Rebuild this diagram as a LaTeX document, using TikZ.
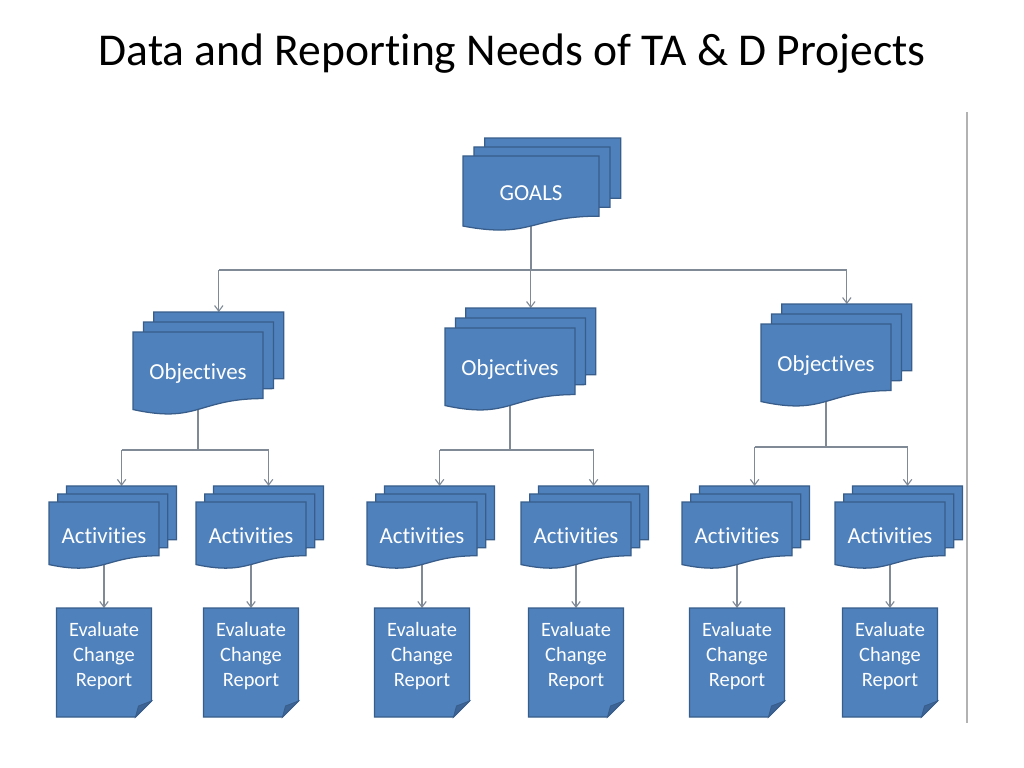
\documentclass[tikz,border=0pt]{standalone}
\usepackage{fontspec}
\setmainfont{Carlito}[Ligatures=NoCommon]
\usetikzlibrary{arrows.meta, backgrounds}
\definecolor{docblue}{RGB}{79,129,189}
\definecolor{docedge}{RGB}{56,93,138}
\definecolor{docfold}{RGB}{60,100,150}
\definecolor{linkgray}{RGB}{128,138,150}

% stack of three document sheets: name, left x, top y, width, height, text
\newcommand{\docstack}[6]{%
  \foreach \k in {2,1,0}{
    \path[sheet, shift={({\k*0.08*#4},{-\k*0.12*#5})}]
      (#2,#3) -- ({#2+#4},#3) -- ({#2+#4},{#3+0.802*#5})
      .. controls ({#2+0.5*#4},{#3+0.802*#5}) and ({#2+0.5*#4},{#3+1.107*#5})
      .. (#2,{#3+0.934*#5}) -- cycle;
  }
  \node[doctext] (#1) at ({#2+0.5*#4},{#3+0.5*#5}) {#6};
  \coordinate (#1-t) at ({#2+0.66*#4},{#3-0.24*#5});
}
% report sheet with folded corner: name, centre x
\newcommand{\report}[2]{%
  \path[sheet] ({#2-47.5},608) -- ({#2+47.5},608) -- ({#2+47.5},701)
    -- ({#2+31.5},717) -- ({#2-47.5},717) -- cycle;
  \path[fill=docfold, draw=docedge, line width=0.6pt]
    ({#2+47.5},701) -- ({#2+34.5},706) -- ({#2+31.5},717) -- cycle;
  \node[reptext] (#1) at (#2,656) {Evaluate\\Change\\Report};
  \coordinate (#1-t) at (#2,608);
}

\begin{document}
\begin{tikzpicture}[x=0.025cm, y=-0.025cm,
  sheet/.style={fill=docblue, draw=docedge, line width=0.9pt},
  doctext/.style={text=white, font=\fontsize{16.3}{19}\selectfont},
  reptext/.style={text=white, align=center,
    font=\fontsize{14.5}{17.8}\selectfont},
  link/.style={draw=linkgray, line width=0.8pt},
  arr/.style={link, -{Straight Barb[length=4pt, width=6pt]}}
]
\useasboundingbox (0,0) rectangle (1024,768);

\node[anchor=base, font=\fontsize{32.4}{40}\selectfont] (title)
  at (512,66) {Data and Reporting Needs of TA \& D Projects};

\draw[draw=black!30, line width=0.8pt] (967,112) -- (967,723);

% sheets
\docstack{goals}{463}{156}{136}{75}{GOALS}
\docstack{o1}{133}{332}{130}{83}{Objectives}
\docstack{o2}{445}{328}{130}{83}{Objectives}
\docstack{o3}{761}{324}{130}{83}{Objectives}

\docstack{a1}{49}{502}{110}{67}{Activities}
\docstack{a2}{196}{502}{110}{67}{Activities}
\docstack{a3}{367}{502}{110}{67}{Activities}
\docstack{a4}{521}{502}{110}{67}{Activities}
\docstack{a5}{682}{502}{110}{67}{Activities}
\docstack{a6}{835}{502}{110}{67}{Activities}

\report{r1}{104}
\report{r2}{251}
\report{r3}{422}
\report{r4}{576}
\report{r5}{737}
\report{r6}{890}

% connectors
\coordinate (bus0) at (531,270);
\coordinate (bus1) at (0,450);
\coordinate (bus2) at (0,450);
\coordinate (bus3) at (0,447);
\begin{scope}[on background layer]
  \draw[link] (goals.center) -- (goals.center |- bus0);
  \draw[link] (o1-t |- bus0) -- (o3-t |- bus0);
  \foreach \n in {o1,o2,o3}
    \draw[arr] (\n-t |- bus0) -- (\n-t);

  \draw[link] (o1.center) -- (o1.center |- bus1);
  \draw[link] (a1-t |- bus1) -- (a2-t |- bus1);
  \draw[link] (o2.center) -- (o2.center |- bus2);
  \draw[link] (a3-t |- bus2) -- (a4-t |- bus2);
  \draw[link] (o3.center) -- (o3.center |- bus3);
  \draw[link] (a5-t |- bus3) -- (a6-t |- bus3);
  \draw[arr] (a1-t |- bus1) -- (a1-t);
  \draw[arr] (a2-t |- bus1) -- (a2-t);
  \draw[arr] (a3-t |- bus2) -- (a3-t);
  \draw[arr] (a4-t |- bus2) -- (a4-t);
  \draw[arr] (a5-t |- bus3) -- (a5-t);
  \draw[arr] (a6-t |- bus3) -- (a6-t);

  \foreach \i in {1,...,6}
    \draw[arr] (a\i.center) -- (r\i-t);
\end{scope}
\end{tikzpicture}
\end{document}
